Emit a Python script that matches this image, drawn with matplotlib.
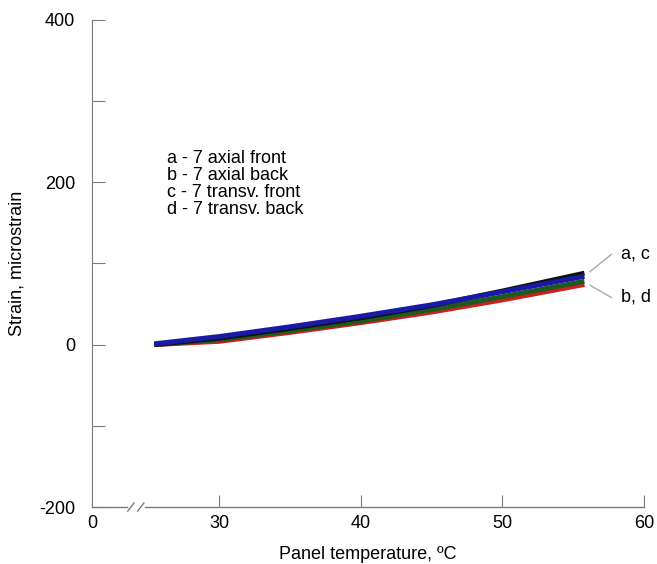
import matplotlib
matplotlib.use("Agg")
import matplotlib.pyplot as plt

plt.rcParams['font.family'] = ['Liberation Sans', 'DejaVu Sans']
plt.rcParams['font.size'] = 13

# Temperatures (degC) and strain readings (microstrain) for the 4 gauges
temp = [25.4, 30, 35, 40, 45, 50, 55.8]
strain_a = [0, 8, 20, 33, 48, 66, 88]     # 7 axial front
strain_b = [0, 6, 17, 29, 43, 59, 78]     # 7 axial back
strain_c = [1, 10, 22, 35, 49, 65, 84]    # 7 transv. front
strain_d = [0, 4, 15, 27, 40, 55, 74]     # 7 transv. back

legend_lines = ["a - 7 axial front", "b - 7 axial back",
                "c - 7 transv. front", "d - 7 transv. back"]

xticks = [21, 30, 40, 50, 60]
xtick_labels = ["0", "30", "40", "50", "60"]
yticks = [-200, -100, 0, 100, 200, 300, 400]
ytick_labels = ["-200", "", "0", "", "200", "", "400"]

spine_col = "#7a7a7a"

fig = plt.figure(figsize=(6.57, 5.64), dpi=100)
ax = fig.add_axes([0.140, 0.101, 0.840, 0.864])

# draw order: red, green, black, blue
ax.plot(temp, strain_d, color="#cc1f1f", lw=3.5, solid_capstyle="butt")
ax.plot(temp, strain_b, color="#1e5a1e", lw=3.5, solid_capstyle="butt")
ax.plot(temp, strain_a, color="#111111", lw=3.5, solid_capstyle="butt")
ax.plot(temp, strain_c, color="#1a1aa8", lw=3.5, solid_capstyle="butt")

ax.set_xlim(21, 60)
ax.set_ylim(-200, 400)

for s in ["top", "right"]:
    ax.spines[s].set_visible(False)
ax.spines["left"].set_color(spine_col)
ax.spines["bottom"].set_visible(False)

# bottom axis with break
ax.plot([21, 23.5], [-200, -200], color=spine_col, lw=1, clip_on=False)
ax.plot([24.75, 60], [-200, -200], color=spine_col, lw=1, clip_on=False)
for xc in [23.75, 24.45]:
    ax.plot([xc - 0.22, xc + 0.22], [-205, -195], color=spine_col, lw=1, clip_on=False)

ax.set_xticks(xticks)
ax.set_xticklabels(xtick_labels)
ax.set_yticks(yticks)
ax.set_yticklabels(ytick_labels)
ax.tick_params(axis="both", direction="in", length=9, color=spine_col, labelsize=13)
ax.tick_params(axis="x", pad=6)
ax.tick_params(axis="y", pad=12)
ax.xaxis.get_major_ticks()[0].tick1line.set_visible(False)

ax.set_xlabel("Panel temperature, ºC", fontsize=13, labelpad=10)
ax.set_ylabel("Strain, microstrain", fontsize=13, labelpad=10)

ax.text(26.3, 240, "\n".join(legend_lines), fontsize=13, va="top", ha="left",
        linespacing=1.02)

# labels for curve groups
ax.plot([56.2, 57.7], [90, 111], color="#aaaaaa", lw=1, clip_on=False)
ax.plot([56.2, 57.7], [73, 58], color="#aaaaaa", lw=1, clip_on=False)
ax.text(58.4, 111, "a, c", fontsize=13, va="center", ha="left", clip_on=False)
ax.text(58.4, 58, "b, d", fontsize=13, va="center", ha="left", clip_on=False)

fig.savefig("out.png", dpi=100)
